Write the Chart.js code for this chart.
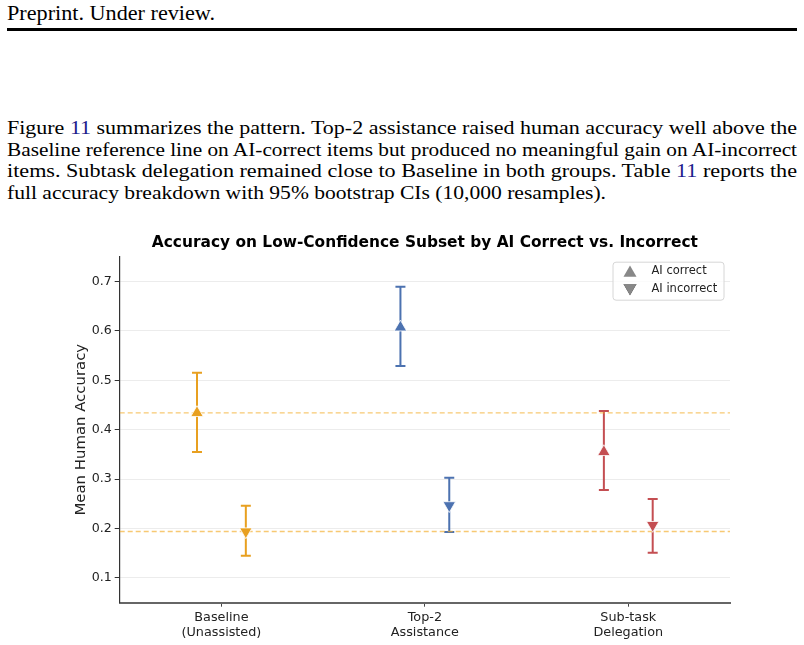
<!DOCTYPE html>
<html>
<head>
<meta charset="utf-8">
<script src="https://cdn.jsdelivr.net/npm/chart.js@4.4.1/dist/chart.umd.min.js"></script>
<style>
    body { margin: 0; width: 804px; height: 645px; background: #fff; position: relative; overflow: hidden; }
    .txt { position: absolute; left: 7px; font-family: "Liberation Serif", serif; color: #000; white-space: nowrap; transform-origin: 0 0; }
    .hdr { top: 1.5px; font-size: 20px; }
    .rule { position: absolute; left: 7px; top: 28px; width: 790px; height: 3px; background: #000; }
    .para { font-size: 19.5px; line-height: 21.7px; }
    .ref { color: #1c1c8c; }
    .chart-box { position: absolute; left: 0; top: 225px; width: 804px; height: 420px; }
</style>
</head>
<body>
<div class="txt hdr" data-w="208">Preprint. Under review.</div>
<div class="rule"></div>
<div class="txt para" style="top:117px" data-w="790">Figure <span class="ref">11</span> summarizes the pattern. Top-2 assistance raised human accuracy well above the</div>
<div class="txt para" style="top:138.7px" data-w="790">Baseline reference line on AI-correct items but produced no meaningful gain on AI-incorrect</div>
<div class="txt para" style="top:160.4px" data-w="790">items. Subtask delegation remained close to Baseline in both groups. Table <span class="ref">11</span> reports the</div>
<div class="txt para" style="top:182.1px" data-w="599">full accuracy breakdown with 95% bootstrap CIs (10,000 resamples).</div>
<div class="chart-box"><canvas id="accChart"></canvas></div>

<script>
// stretch each text line to the width it has in the page
document.querySelectorAll('.txt').forEach(el => {
    const w = el.getBoundingClientRect().width;
    el.style.transform = 'scaleX(' + (Number(el.dataset.w) / w) + ')';
});

const categories = [['Baseline', '(Unassisted)'], ['Top-2', 'Assistance'], ['Sub-task', 'Delegation']];
const groupColors = ['#E8A020', '#4C72B0', '#C44E52'];

const correctMean = [0.434, 0.607, 0.355];
const correctLow = [0.355, 0.529, 0.278];
const correctHigh = [0.515, 0.689, 0.438];

const incorrectMean = [0.194, 0.247, 0.207];
const incorrectLow = [0.145, 0.193, 0.151];
const incorrectHigh = [0.246, 0.303, 0.260];

const yTicks = [0.1, 0.2, 0.3, 0.4, 0.5, 0.6, 0.7];
const legendLabels = ['AI correct', 'AI incorrect'];

const offset = 0.12;

function points(means, shift) {
    return means.map((m, i) => ({ x: i + shift, y: m }));
}

// dashed reference lines at the baseline means
function refLine(value) {
    return {
        type: 'line',
        data: [{ x: -0.5, y: value }, { x: 2.5, y: value }],
        borderColor: 'rgba(242, 172, 40, 0.65)',
        borderWidth: 1.3,
        borderDash: [5, 3],
        pointRadius: 0,
        order: 5
    };
}

const errorBars = {
    id: 'errorBars',
    beforeDatasetsDraw(chart) {
        const ctx = chart.ctx;
        const xs = chart.scales.x;
        const ys = chart.scales.y;
        const groups = [
            { shift: -offset, lo: correctLow, hi: correctHigh },
            { shift: offset, lo: incorrectLow, hi: incorrectHigh }
        ];
        ctx.save();
        ctx.lineWidth = 2;
        groups.forEach(g => {
            g.lo.forEach((lo, i) => {
                const x = xs.getPixelForValue(i + g.shift);
                const y1 = ys.getPixelForValue(lo);
                const y2 = ys.getPixelForValue(g.hi[i]);
                ctx.strokeStyle = groupColors[i];
                ctx.beginPath();
                ctx.moveTo(x, y1); ctx.lineTo(x, y2);
                ctx.moveTo(x - 5, y1); ctx.lineTo(x + 5, y1);
                ctx.moveTo(x - 5, y2); ctx.lineTo(x + 5, y2);
                ctx.stroke();
            });
        });
        ctx.restore();
    }
};

const boxLegend = {
    id: 'boxLegend',
    afterDraw(chart) {
        const ctx = chart.ctx;
        const area = chart.chartArea;
        const w = 111, h = 38;
        const left = area.right - 6 - w;
        const top = area.top + 5.5;
        ctx.save();
        ctx.fillStyle = 'rgba(255,255,255,0.8)';
        ctx.strokeStyle = '#d6d6d6';
        ctx.lineWidth = 1;
        ctx.beginPath();
        ctx.roundRect(left, top, w, h, 3);
        ctx.fill();
        ctx.stroke();
        ctx.font = '11.5px "DejaVu Sans"';
        ctx.textBaseline = 'middle';
        legendLabels.forEach((label, i) => {
            const cy = top + 9 + i * 18.3;
            Chart.helpers.drawPoint(ctx, {
                pointStyle: 'triangle',
                rotation: i === 0 ? 0 : 180,
                radius: 7.5
            }, left + 17, cy + (i === 0 ? 1.8 : -1.8));
            ctx.fillStyle = '#888';
            ctx.fill();
            ctx.fillStyle = '#222';
            ctx.fillText(label, left + 38.5, cy);
        });
        ctx.restore();
    }
};

const ctx = document.getElementById('accChart');

new Chart(ctx, {
    type: 'scatter',
    data: {
        datasets: [
            {
                label: legendLabels[0],
                data: points(correctMean, -offset),
                pointStyle: 'triangle',
                pointRadius: 7.2,
                pointBackgroundColor: groupColors,
                pointBorderColor: '#fff',
                pointBorderWidth: 0.8,
                order: 1
            },
            {
                label: legendLabels[1],
                data: points(incorrectMean, offset),
                pointStyle: 'triangle',
                pointRotation: 180,
                pointRadius: 7.2,
                pointBackgroundColor: groupColors,
                pointBorderColor: '#fff',
                pointBorderWidth: 0.8,
                order: 1
            },
            refLine(correctMean[0]),
            refLine(incorrectMean[0])
        ]
    },
    options: {
        responsive: true,
        maintainAspectRatio: false,
        animation: false,
        layout: { padding: { left: 0, right: 74, top: 0, bottom: 0 } },
        plugins: {
            legend: { display: false },
            tooltip: { enabled: false },
            title: {
                display: true,
                fullSize: false,
                text: 'Accuracy on Low-Confidence Subset by AI Correct vs. Incorrect',
                color: '#000',
                font: { family: 'DejaVu Sans', size: 15.4, weight: 'bold' },
                padding: { top: 8.8, bottom: 4.4 }
            }
        },
        scales: {
            x: {
                type: 'linear',
                min: -0.5,
                max: 2.5,
                afterBuildTicks: s => { s.ticks = categories.map((c, i) => ({ value: i })); },
                afterFit: s => { s.height = 42.3; },
                ticks: {
                    color: '#222',
                    font: { family: 'DejaVu Sans', size: 12.8 },
                    padding: 3,
                    maxRotation: 0,
                    callback: v => categories[v]
                },
                grid: { drawOnChartArea: false, drawTicks: true, tickLength: 4, color: '#444' },
                border: { color: '#666', width: 2 }
            },
            y: {
                min: 0.05,
                max: 0.75,
                afterBuildTicks: s => { s.ticks = yTicks.map(v => ({ value: v })); },
                afterFit: s => { s.width = 119.7; },
                ticks: {
                    color: '#222',
                    font: { family: 'DejaVu Sans', size: 12.6 },
                    padding: 3,
                    callback: v => v.toFixed(1)
                },
                grid: { color: '#ececec', lineWidth: 1, tickColor: '#333', tickLength: 5 },
                border: { color: '#333', width: 1.2 },
                title: {
                    display: true,
                    text: 'Mean Human Accuracy',
                    color: '#222',
                    font: { family: 'DejaVu Sans', size: 14.9 },
                    padding: { top: 72, bottom: 0 }
                }
            }
        }
    },
    plugins: [errorBars, boxLegend]
});
</script>
</body>
</html>
